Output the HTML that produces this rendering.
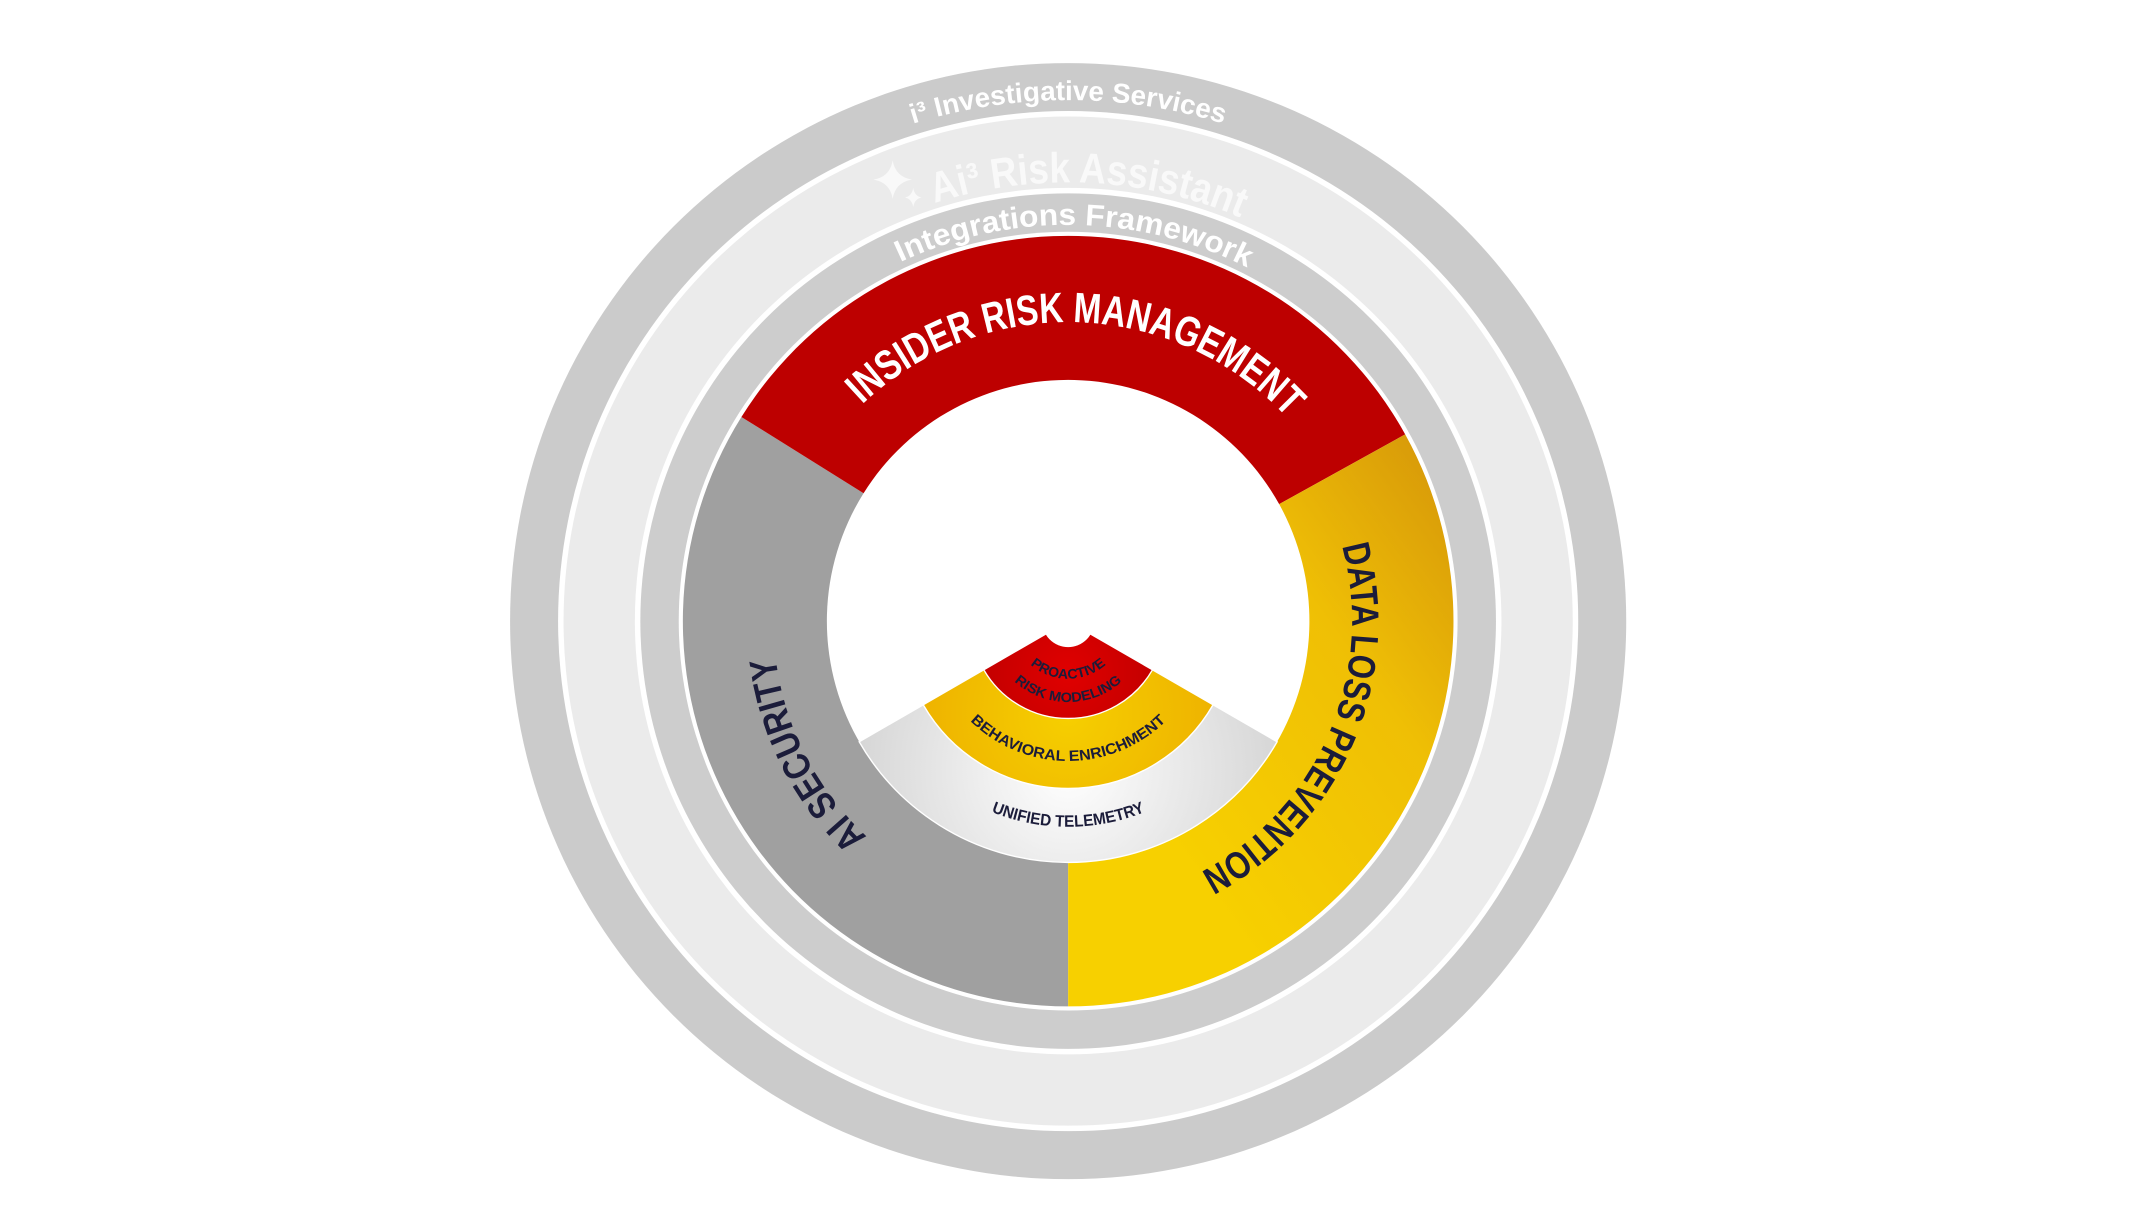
<!DOCTYPE html>
<html><head><meta charset="utf-8"><style>
html,body{margin:0;padding:0;background:#fff;}
svg{display:block;}
text{font-family:"Liberation Sans",sans-serif;font-weight:bold;}
</style></head><body>
<svg width="2147" height="1217" viewBox="1 -1 1565.8 887.6" preserveAspectRatio="none" xmlns="http://www.w3.org/2000/svg">
<defs>
<linearGradient id="yg" x1="1" y1="0" x2="0.3" y2="0.75">
<stop offset="0" stop-color="#d4940a"/><stop offset="0.45" stop-color="#efbf05"/><stop offset="1" stop-color="#f7d000"/>
</linearGradient>
<radialGradient id="gg" cx="780" cy="560" r="170" gradientUnits="userSpaceOnUse">
<stop offset="0" stop-color="#ffffff"/><stop offset="1" stop-color="#d2d2d2"/>
</radialGradient>
<radialGradient id="bg" cx="780" cy="520" r="110" gradientUnits="userSpaceOnUse">
<stop offset="0" stop-color="#f6cf00"/><stop offset="1" stop-color="#eeb200"/>
</radialGradient>
<radialGradient id="rg" cx="780" cy="490" r="70" gradientUnits="userSpaceOnUse">
<stop offset="0" stop-color="#e00000"/><stop offset="1" stop-color="#c00000"/>
</radialGradient>
<path id="p_inv" d="M 400 452 A 380 380 0 0 1 1160 452"/>
<path id="p_ai" d="M 460 452 A 320 320 0 0 1 1100 452"/>
<path id="p_int" d="M 491 452 A 289 289 0 0 1 1069 452"/>
<path id="p_irm" d="M 562 452 A 218 218 0 0 1 998 452"/>
<path id="p_dlp" d="M 780 245 A 207 207 0 0 1 780 659"/>
<path id="p_ais" d="M 780 667 A 215 215 0 0 1 780 237"/>
<path id="p_ut" d="M 630 452 A 150 150 0 0 0 930 452"/>
<path id="p_be" d="M 678 452 A 102 102 0 0 0 882 452"/>
<path id="p_pr" d="M 738 452 A 42 42 0 0 0 822 452"/>
<path id="p_rm" d="M 721 452 A 59 59 0 0 0 839 452"/>
</defs>
<circle cx="780" cy="452" r="407" fill="#cbcbcb"/>
<circle cx="780" cy="452" r="372" fill="#ffffff"/>
<circle cx="780" cy="452" r="368" fill="#ebebeb"/>
<circle cx="780" cy="452" r="316" fill="#ffffff"/>
<circle cx="780" cy="452" r="312" fill="#cdcdcd"/>
<circle cx="780" cy="452" r="284" fill="#ffffff"/>
<circle cx="780" cy="452" r="176" fill="#ffffff"/>
<path d="M 780 733 A 281 281 0 0 1 541.7 303.1 L 630.8 358.7 A 176 176 0 0 0 780 628 Z" fill="#a0a0a0"/>
<path d="M 541.7 303.1 A 281 281 0 0 1 1025.8 315.8 L 933.9 366.7 A 176 176 0 0 0 630.8 358.7 Z" fill="#bd0000"/>
<path d="M 1025.8 315.8 A 281 281 0 0 1 780 733 L 780 628 A 176 176 0 0 0 933.9 366.7 Z" fill="url(#yg)"/>
<path d="M 780 452 L 932.4 540 A 176 176 0 0 1 627.6 540 Z" fill="url(#gg)" stroke="#fff" stroke-width="1"/>
<path d="M 780 452 L 885.7 513 A 122 122 0 0 1 674.3 513 Z" fill="url(#bg)" stroke="#fff" stroke-width="1"/>
<path d="M 780 452 L 841.5 487.5 A 71 71 0 0 1 718.5 487.5 Z" fill="url(#rg)" stroke="#fff" stroke-width="1"/>
<circle cx="780" cy="452" r="19" fill="#fff"/>

<text font-size="20" fill="#ffffff" text-anchor="middle"><textPath href="#p_inv" startOffset="50%" textLength="230" lengthAdjust="spacingAndGlyphs">i³ Investigative Services</textPath></text>
<text font-size="31" fill="#f9f9f9" text-anchor="middle"><textPath href="#p_ai" startOffset="51.5%" textLength="228" lengthAdjust="spacingAndGlyphs">Ai³ Risk Assistant</textPath></text>
<path d="M652 116 Q654 128 666 130 Q654 132 652 144 Q650 132 638 130 Q650 128 652 116 Z" fill="#f9f9f9"/>
<path d="M667 136 Q668 142 673 143 Q668 144 667 150 Q666 144 661 143 Q666 142 667 136 Z" fill="#f9f9f9"/>
<text font-size="22" fill="#ffffff" text-anchor="middle"><textPath href="#p_int" startOffset="50.5%" textLength="262" lengthAdjust="spacingAndGlyphs">Integrations Framework</textPath></text>
<text font-size="31" fill="#ffffff" text-anchor="middle"><textPath href="#p_irm" startOffset="51%" textLength="345" lengthAdjust="spacingAndGlyphs">INSIDER RISK MANAGEMENT</textPath></text>
<text font-size="28" fill="#1b1c3a" text-anchor="middle"><textPath href="#p_dlp" startOffset="63%" textLength="280" lengthAdjust="spacingAndGlyphs">DATA LOSS PREVENTION</textPath></text>
<text font-size="28" fill="#1b1c3a" text-anchor="middle"><textPath href="#p_ais" startOffset="35%" textLength="150" lengthAdjust="spacingAndGlyphs">AI SECURITY</textPath></text>
<text font-size="12" fill="#1b1c3a" text-anchor="middle"><textPath href="#p_ut" startOffset="50%" textLength="115" lengthAdjust="spacingAndGlyphs">UNIFIED TELEMETRY</textPath></text>
<text font-size="11" fill="#1b1c3a" text-anchor="middle"><textPath href="#p_be" startOffset="50%" textLength="158" lengthAdjust="spacingAndGlyphs">BEHAVIORAL ENRICHMENT</textPath></text>
<text font-size="10" fill="#1b1c3a" text-anchor="middle"><textPath href="#p_pr" startOffset="50%" textLength="60" lengthAdjust="spacingAndGlyphs">PROACTIVE</textPath></text>
<text font-size="10" fill="#1b1c3a" text-anchor="middle"><textPath href="#p_rm" startOffset="50%" textLength="86" lengthAdjust="spacingAndGlyphs">RISK MODELING</textPath></text>
</svg>
</body></html>
